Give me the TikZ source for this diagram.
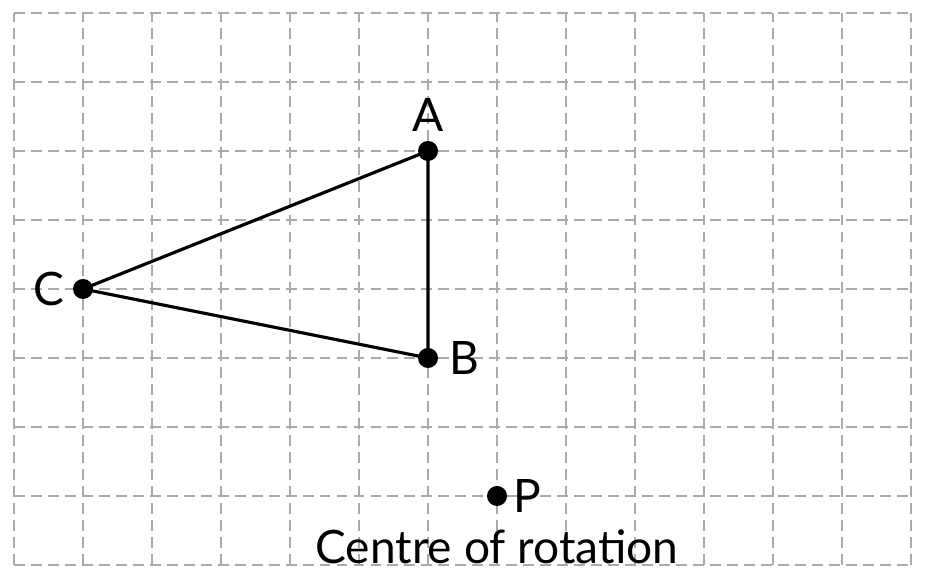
\documentclass[tikz,border=0pt]{standalone}
\usepackage{fontspec}
\setmainfont{Lato}
\usetikzlibrary{positioning}
\definecolor{gridgray}{RGB}{170,170,170}
\begin{document}
\begin{tikzpicture}[
  thick,
  pt/.style={circle,fill=black,inner sep=0pt,minimum size=0.29cm},
  lbl/.style={font=\fontsize{19}{21}\selectfont,inner sep=1pt},
  side/.style={line width=1.3pt,black}
]
  \useasboundingbox (-0.203,-0.261) rectangle (13.246,8.188);

  % Grid
  \draw[gridgray, line width=0.8pt, dash pattern=on 4.5pt off 2.5pt] (0,0) grid (13,8);

  % Triangle vertices
  \node[pt] (A) at (6,6) {};
  \node[pt] (B) at (6,3) {};
  \node[pt] (C) at (1,4) {};
  \draw[side] (A.center) -- (B.center) -- (C.center) -- cycle;

  % Labels
  \node[lbl, above=2pt of A] (labA) {A};
  \node[lbl, right=3pt of B] (labB) {B};
  \node[lbl, left=2pt of C] (labC) {C};

  % Centre of rotation
  \node[pt] (P) at (7,1) {};
  \node[lbl, right=1pt of P] (labP) {P};
  \node[lbl] (cent) at (7,0.27) {Centre of rotation};

\end{tikzpicture}
\end{document}
